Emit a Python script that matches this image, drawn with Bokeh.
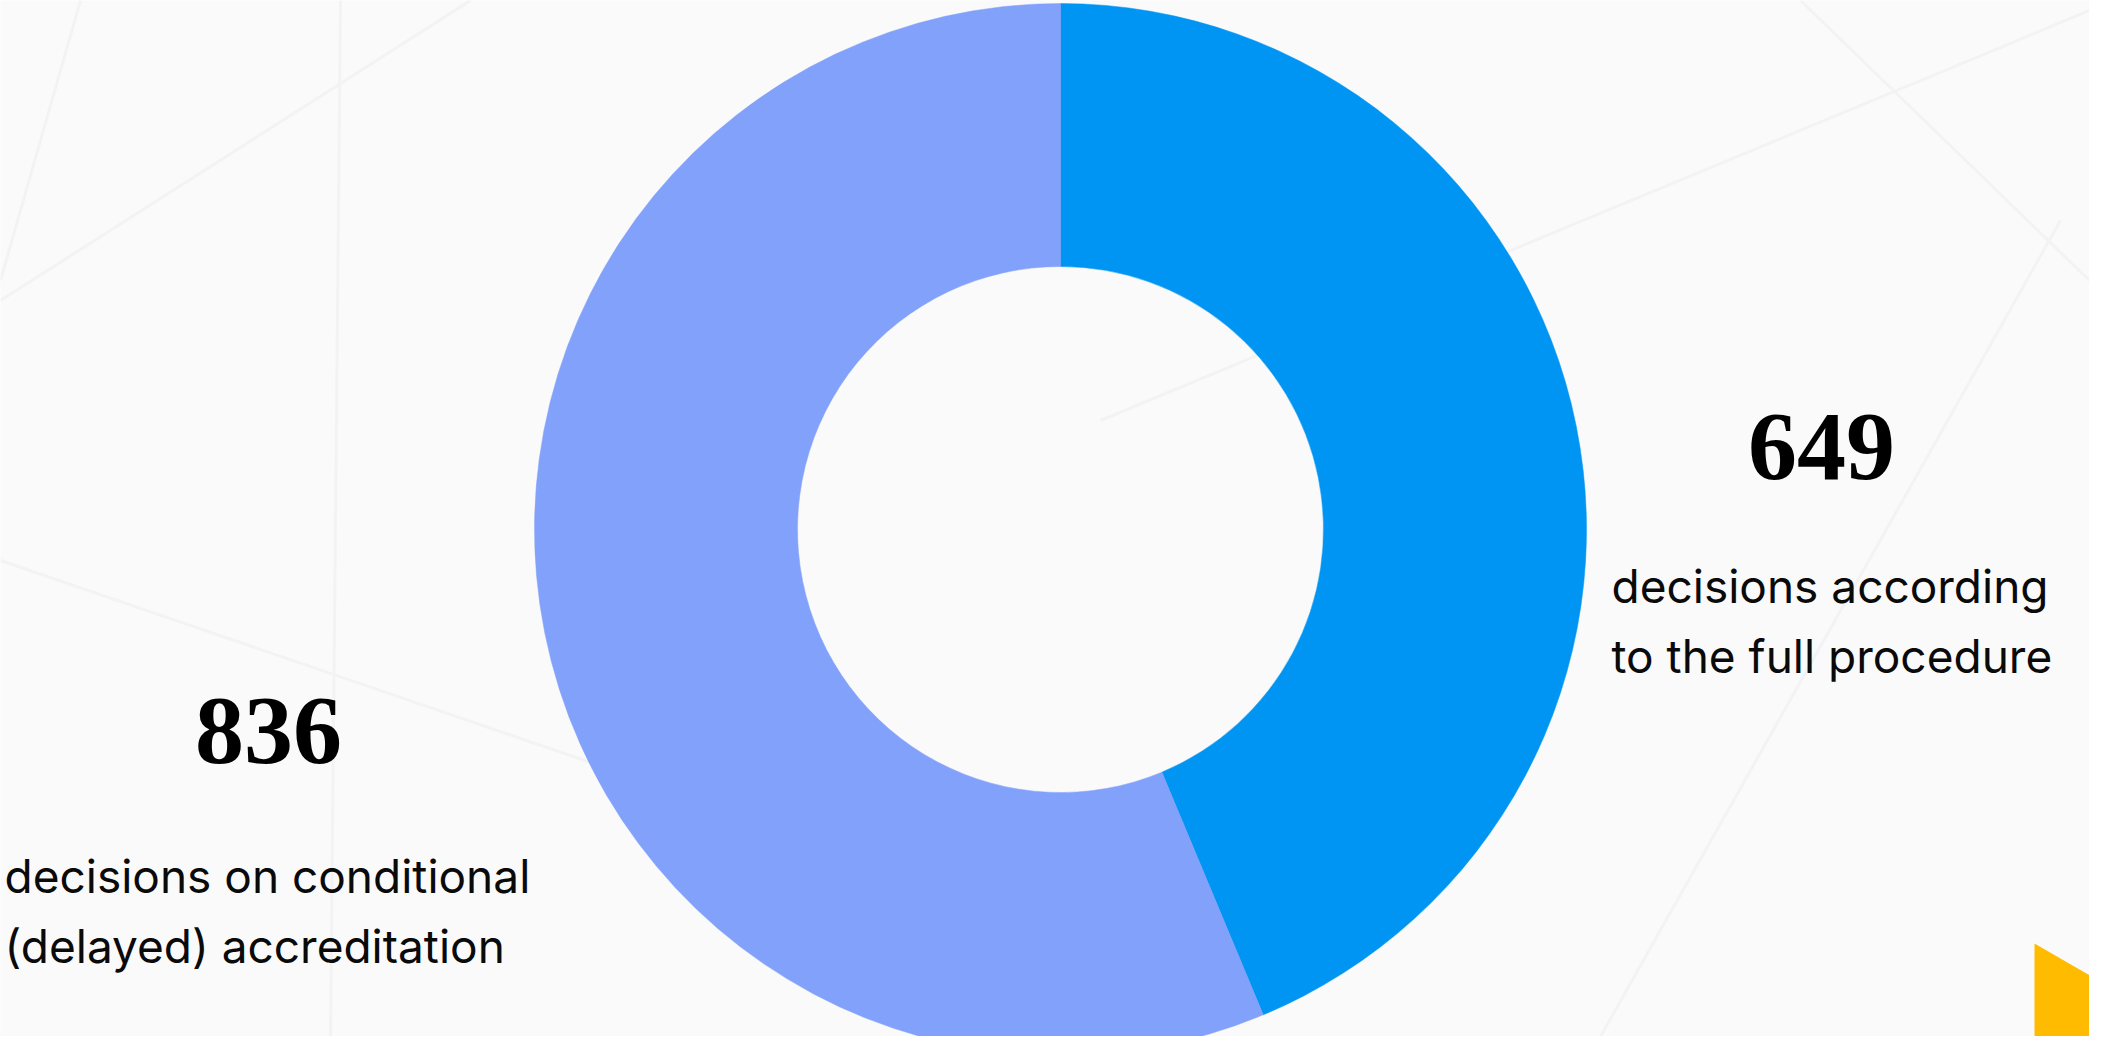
import math
from bokeh.plotting import figure
from bokeh.models import Range1d, ColumnDataSource
from bokeh.core.properties import value
from bokeh.embed import file_html
from bokeh.resources import INLINE

# ---- data ----
categories = ["decisions according to the full procedure",
              "decisions on conditional (delayed) accreditation"]
values = [649, 836]
colors = ["#0095F2", "#82A1FA"]
desc_lines = [["decisions according", "to the full procedure"],
              ["decisions on conditional", "(delayed) accreditation"]]

W, H = 2089, 1036
BG = "#FAFAFA"
NUM_FS = 98
DESC_FS = 46
BASE_SHIFT = 0.37  # compensation of the renderer's baseline offset (in em)

def P(xp, yp):
    # screenshot pixel -> figure data coords (y up)
    return xp, H - yp

p = figure(width=W, height=H, output_backend="svg", toolbar_location=None,
           x_range=Range1d(0, W), y_range=Range1d(0, H), min_border=0)
p.axis.visible = False
p.grid.visible = False
p.outline_line_color = None
p.background_fill_color = BG
p.border_fill_color = BG

# faint background decoration lines
segs = [((0, 300), (470, 0)), ((80, 0), (0, 280)), ((340, 0), (330, 1040)),
        ((0, 560), (1140, 950)), ((1800, 0), (2089, 280)),
        ((1600, 1036), (2060, 220)), ((1100, 420), (2089, 10))]
bx = [[P(*a)[0], P(*b)[0]] for a, b in segs]
by = [[P(*a)[1], P(*b)[1]] for a, b in segs]
p.multi_line(bx, by, line_color="#F3F3F3", line_width=3)

# ---- donut ----
cx, cy = P(1060, 529)
total = sum(values)
starts, ends = [], []
cum = 0.0
for v in values:
    a_end = math.pi / 2 - 2 * math.pi * cum / total
    cum += v
    a_start = math.pi / 2 - 2 * math.pi * cum / total
    starts.append(a_start)
    ends.append(a_end)
src = ColumnDataSource(dict(x=[cx] * len(values), y=[cy] * len(values),
                            start=starts, end=ends, color=colors, cat=categories))
p.annular_wedge(x="x", y="y", inner_radius=263, outer_radius=526,
                start_angle="start", end_angle="end", direction="anticlock",
                fill_color="color", line_color="color", line_width=0.5, source=src)

# ---- labels ----
num_pos = [P(1821, 483), P(268, 767)]
for v, (x, y) in zip(values, num_pos):
    p.text([x], [y + BASE_SHIFT * NUM_FS], text=[str(v)],
           text_font=value("Liberation Serif"),
           text_font_style="bold", text_font_size=f"{NUM_FS}px", text_color="#000000",
           text_align="center", text_baseline="alphabetic")

desc_anchor = [P(1611, 603), P(4, 893)]
for lines, (x, y) in zip(desc_lines, desc_anchor):
    for i, ln in enumerate(lines):
        p.text([x], [y - i * 70 + BASE_SHIFT * DESC_FS], text=[ln],
               text_font=value("Inter"),
               text_font_size=f"{DESC_FS}px", text_color="#0A0A0A",
               text_align="left", text_baseline="alphabetic")

# ---- decorative play triangle (bottom-right) ----
L = 160
tri = [(2034, 943), (2034 + 0.866 * L, 943 + L / 2), (2034, 943 + L)]
p.patch([P(*t)[0] for t in tri], [P(*t)[1] for t in tri],
        fill_color="#FFBB00", line_color=None)

open("out.html", "w").write(file_html(p, INLINE))
